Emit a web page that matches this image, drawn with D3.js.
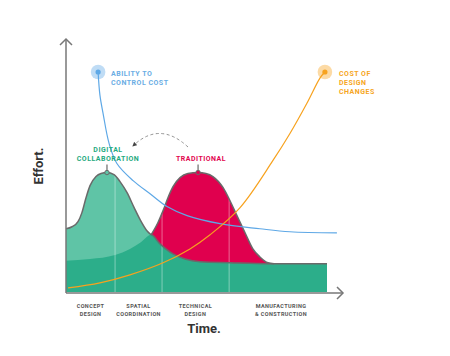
<!DOCTYPE html>
<html><head><meta charset="utf-8">
<script src="https://cdn.jsdelivr.net/npm/d3@7"></script>
<style>body{margin:0;background:#fff}svg{display:block;font-family:Roboto,"Open Sans",sans-serif}</style>
</head><body><svg id="c" width="450" height="356"></svg>
<script>
// ---- data (x: time 0..100, y: effort 0..100) ----
const digital = [[0,25.1],[2.3,25.9],[4.6,27.9],[6.1,31.5],[7.7,37.5],[9.2,42.2],[11.5,45.8],[13.4,47.0],[15.7,47.4],[18.4,46.6],[20.7,43.8],[23.4,39.4],[26.1,33.5],[28.4,28.7],[31.0,24.3],[32.6,22.7]];
const base = [[0,12.4],[9.2,13.1],[18.8,14.7],[24.5,17.1],[28.4,19.5],[32.6,22.7],[36.0,19.1],[41.0,15.1],[45.6,13.1],[51.3,12.0],[62.8,11.6],[77.4,11.2],[100,11.2]];
const traditional = [[32.6,22.7],[35.2,27.5],[37.2,32.3],[39.1,37.5],[41.0,41.8],[43.7,45.4],[46.7,47.0],[50.6,47.4],[53.6,47.0],[56.3,45.8],[60.2,41.4],[62.8,36.3],[65.5,30.3],[68.6,23.5],[71.6,17.1],[74.3,13.9],[77.4,11.6],[79.7,11.2]];
const abilityToControlCost = [[12.3,87.3],[13.0,78.1],[14.2,70.9],[16.5,59.0],[19.5,51.0],[25.7,44.2],[32.2,39.0],[38.7,33.9],[46.4,30.3],[59.0,27.1],[74.3,25.1],[85.8,23.9],[103.8,23.5]];
const costOfDesignChanges = [[0.8,1.6],[13.0,3.6],[24.5,6.8],[37.2,11.6],[47.5,17.1],[55.2,22.7],[66.7,33.5],[79.3,52.2],[85.8,62.9],[92.3,74.9],[97.3,84.9],[99.2,87.3]];
const phaseBoundaries = [18.8, 36.8, 62.5];
const phaseLabels = [["CONCEPT","DESIGN"],["SPATIAL","COORDINATION"],["TECHNICAL","DESIGN"],["MANUFACTURING","& CONSTRUCTION"]];
const phaseCenters = [9.4, 27.8, 49.6, 82.4];
const crossing = 32.6;

const svg = d3.select("#c");
const x = d3.scaleLinear().domain([0,100]).range([66,327]);
const y = d3.scaleLinear().domain([0,100]).range([292,40]);

const C = {light:"#5fc4a6", dark:"#2cae8a", red:"#e0004e", stroke:"#6a6a6a", blue:"#5ea8e6", orange:"#f7a21e",
  greenTxt:"#1faa80", redTxt:"#e2064f", blueTxt:"#6aade4", orangeTxt:"#f6a623", axis:"#777"};

const curve = d3.curveMonotoneX;
const area = d3.area().x(d=>x(d[0])).y0(y(0)).y1(d=>y(d[1])).curve(curve);
const line = d3.line().x(d=>x(d[0])).y(d=>y(d[1])).curve(curve);
const smooth = d3.line().x(d=>x(d[0])).y(d=>y(d[1])).curve(d3.curveCatmullRom.alpha(0.5));

const defs = svg.append("defs");
const clip = defs.append("clipPath").attr("id","fills");
[digital, traditional, base].forEach(s=>clip.append("path").attr("d",area(s)));
defs.append("clipPath").attr("id","right").append("rect")
  .attr("x",x(crossing)).attr("y",0).attr("width",450).attr("height",356);
defs.append("marker").attr("id","ah").attr("viewBox","0 0 10 10").attr("refX",5).attr("refY",5)
  .attr("markerWidth",5).attr("markerHeight",5).attr("orient","auto-start-reverse")
  .append("path").attr("d","M0,0 L10,5 L0,10 z").attr("fill","#444");

// fills
svg.append("path").attr("d",area(digital)).attr("fill",C.light);
svg.append("path").attr("d",area(traditional)).attr("fill",C.red);
svg.append("path").attr("d",area(base)).attr("fill",C.dark);

// phase divider lines
svg.append("g").attr("clip-path","url(#fills)").selectAll("line").data(phaseBoundaries).join("line")
  .attr("x1",d=>x(d)).attr("x2",d=>x(d)).attr("y1",y(100)).attr("y2",y(0))
  .attr("stroke","#fff").attr("stroke-opacity",0.4).attr("stroke-width",1);

// outlines
svg.append("path").attr("d",line(digital)).attr("fill","none").attr("stroke",C.stroke).attr("stroke-width",1.5);
svg.append("path").attr("d",line(traditional)).attr("fill","none").attr("stroke",C.stroke).attr("stroke-width",1.5);
svg.append("path").attr("d",line(base)).attr("fill","none").attr("stroke",C.stroke).attr("stroke-width",1.5).attr("clip-path","url(#right)");

// cost curves
svg.append("path").attr("d",smooth(abilityToControlCost)).attr("fill","none").attr("stroke",C.blue).attr("stroke-width",1.2);
svg.append("path").attr("d",smooth(costOfDesignChanges)).attr("fill","none").attr("stroke",C.orange).attr("stroke-width",1.2);

// end dots
[[abilityToControlCost[0],C.blue],[costOfDesignChanges[costOfDesignChanges.length-1],C.orange]].forEach(([p,c])=>{
  svg.append("circle").attr("cx",x(p[0])).attr("cy",y(p[1])).attr("r",7.3).attr("fill",c).attr("fill-opacity",0.4);
  svg.append("circle").attr("cx",x(p[0])).attr("cy",y(p[1])).attr("r",2.6).attr("fill",c);
});

// peak markers
[[digital,C.light],[traditional,C.red]].forEach(([s,c])=>{
  const p = d3.greatest(s,d=>d[1]);
  svg.append("line").attr("x1",x(p[0])).attr("x2",x(p[0])).attr("y1",y(p[1])-8).attr("y2",y(p[1]))
    .attr("stroke",C.stroke).attr("stroke-width",1.2);
  svg.append("circle").attr("cx",x(p[0])).attr("cy",y(p[1])).attr("r",2.2).attr("fill",c).attr("stroke",C.stroke).attr("stroke-width",1);
});

// axes
const ax = svg.append("g").attr("fill","none").attr("stroke",C.axis).attr("stroke-width",1.5);
const ay0 = y(0)+1;
ax.append("path").attr("d",`M${x(0)},${ay0}V39`);
ax.append("path").attr("d",`M${x(0)-6},45L${x(0)},39L${x(0)+6},45`);
ax.append("path").attr("d",`M${x(0)},${ay0}H343`);
ax.append("path").attr("d",`M337,${ay0-6}L343,${ay0}L337,${ay0+6}`);

// text helpers
function label(lines, px, py, opts){
  const t = svg.append("text").attr("x",px).attr("y",py)
    .attr("font-size",opts.size).attr("font-weight",700).attr("fill",opts.color)
    .attr("letter-spacing",opts.ls||0).attr("text-anchor",opts.anchor||"start");
  lines.forEach((l,i)=>t.append("tspan").attr("x",px).attr("dy",i?opts.lh:0).text(l));
  return t;
}
phaseLabels.forEach((l,i)=>label(l, x(phaseCenters[i]), 308, {size:5.5,color:"#555",ls:0.4,lh:7.5,anchor:"middle"}));
label(["ABILITY TO","CONTROL COST"], 111, 76, {size:7,color:C.blueTxt,ls:0.5,lh:9});
label(["COST OF","DESIGN","CHANGES"], 339, 76, {size:7,color:C.orangeTxt,ls:0.5,lh:9});
label(["DIGITAL","COLLABORATION"], 108, 152, {size:7,color:C.greenTxt,ls:0.5,lh:9,anchor:"middle"});
label(["TRADITIONAL"], 201, 161, {size:7,color:C.redTxt,ls:0.5,lh:9,anchor:"middle"});

svg.append("text").attr("transform","translate(43,166) rotate(-90)").attr("text-anchor","middle")
  .attr("font-size",13).attr("font-weight",700).attr("fill","#333").text("Effort.");
svg.append("text").attr("x",204).attr("y",333).attr("text-anchor","middle")
  .attr("font-size",13).attr("font-weight",700).attr("fill","#333").text("Time.");

// dashed arrow from Traditional to Digital
svg.append("path").attr("d","M188,147 Q160,121 134,145").attr("fill","none")
  .attr("stroke","#888").attr("stroke-width",0.9).attr("stroke-dasharray","3,2.5")
  .attr("marker-end","url(#ah)");
</script></body></html>
